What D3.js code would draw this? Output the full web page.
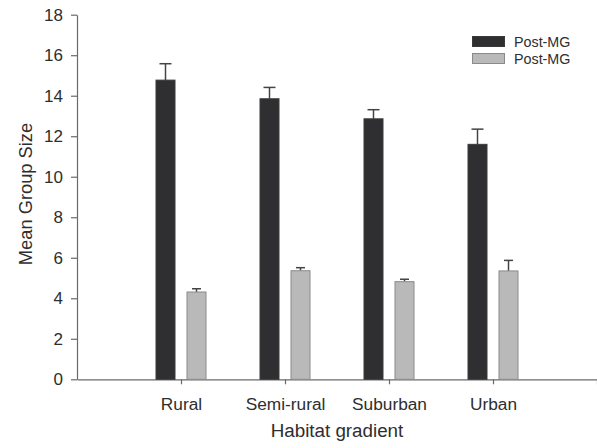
<!DOCTYPE html>
<html><head><meta charset="utf-8">
<script src="https://cdn.jsdelivr.net/npm/d3@7"></script>
<style>body{margin:0;background:#fff}text{font-family:"Liberation Sans",Arial,sans-serif}</style>
</head><body><svg id="c" width="597" height="448"></svg>
<script>
const categories = ["Rural", "Semi-rural", "Suburban", "Urban"];
const seriesNames = ["Post-MG", "Post-MG"];
const darkValues = [14.77, 13.85, 12.86, 11.6];
const darkErrors = [0.81, 0.56, 0.45, 0.75];
const lightValues = [4.31, 5.36, 4.82, 5.35];
const lightErrors = [0.16, 0.15, 0.12, 0.52];
const yTicks = [0, 2, 4, 6, 8, 10, 12, 14, 16, 18];

const svg = d3.select("#c");
const axisCol = "#6a6a6a";
const textCol = "#2e2e2e";
const y = d3.scaleLinear().domain([0, 18]).range([379.3, 14.7]);
const x = d3.scaleLinear().domain([0, 5]).range([77, 597]);

// axes
const ya = svg.append("g").attr("transform", "translate(77,0)")
  .call(d3.axisLeft(y).tickValues(yTicks).tickSize(6).tickPadding(8).tickSizeOuter(0));
const xa = svg.append("g").attr("transform", "translate(0,379.3)")
  .call(d3.axisBottom(x).tickValues([1,2,3,4,5]).tickSize(5).tickPadding(13.5).tickSizeOuter(0)
    .tickFormat((d) => categories[d - 1] || ""));
[ya, xa].forEach(a => {
  a.selectAll("path,line").attr("stroke", axisCol).attr("stroke-width", 1.2);
  a.selectAll("text").attr("fill", textCol).style("font-family", "Liberation Sans, Arial, sans-serif");
});
ya.selectAll("text").style("font-size", "17px");
xa.selectAll("text").style("font-size", "17.3px");

const bw = 19, off = 15.5;
const series = [
  {vals: darkValues, errs: darkErrors, dx: -off, fill: "#2f2e31", stroke: "#3a3a3a", cap: 12},
  {vals: lightValues, errs: lightErrors, dx: off, fill: "#b9b9b9", stroke: "#8a8a8a", cap: 9}
];
series.forEach(s => {
  const g = svg.append("g");
  categories.forEach((c, i) => {
    const cx = x(i + 1) + s.dx;
    const top = y(s.vals[i] + s.errs[i]);
    g.append("line").attr("x1", cx).attr("x2", cx).attr("y1", y(s.vals[i])).attr("y2", top)
      .attr("stroke", "#444").attr("stroke-width", 1.5);
    g.append("line").attr("x1", cx - s.cap / 2).attr("x2", cx + s.cap / 2).attr("y1", top).attr("y2", top)
      .attr("stroke", "#444").attr("stroke-width", 1.5);
    g.append("rect").attr("x", cx - bw / 2).attr("y", y(s.vals[i]))
      .attr("width", bw).attr("height", y(0) - y(s.vals[i]))
      .attr("fill", s.fill).attr("stroke", s.stroke).attr("stroke-width", 1);
  });
});

// axis titles
svg.append("text").attr("x", 337).attr("y", 437).attr("text-anchor", "middle")
  .attr("fill", textCol).style("font-size", "18.8px").text("Habitat gradient");
svg.append("text").attr("transform", "translate(32,194) rotate(-90)").attr("text-anchor", "middle")
  .attr("fill", textCol).style("font-size", "18.3px").text("Mean Group Size");

// legend
const leg = svg.append("g");
[{y: 36.5, fill: "#2f2e31", stroke: "#3a3a3a"}, {y: 53.5, fill: "#b9b9b9", stroke: "#8a8a8a"}].forEach((l, i) => {
  leg.append("rect").attr("x", 472.5).attr("y", l.y).attr("width", 32).attr("height", 10)
    .attr("fill", l.fill).attr("stroke", l.stroke);
  leg.append("text").attr("x", 514).attr("y", l.y + 10.5).attr("fill", textCol)
    .style("font-size", "14.3px").text(seriesNames[i]);
});
</script></body></html>
